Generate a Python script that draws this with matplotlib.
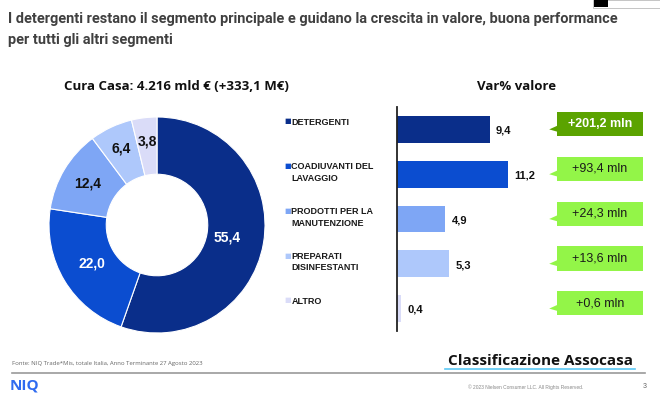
import numpy as np
import matplotlib.pyplot as plt
from matplotlib.patches import Rectangle, Polygon

W, H = 660, 396

categories = ['DETERGENTI', 'COADIUVANTI DEL\nLAVAGGIO', 'PRODOTTI PER LA\nMANUTENZIONE',
              'PREPARATI\nDISINFESTANTI', 'ALTRO']
share = [55.4, 22.0, 12.4, 6.4, 3.8]
share_labels = ['55,4', '22,0', '12,4', '6,4', '3,8']
var_pct = [9.4, 11.2, 4.9, 5.3, 0.4]
var_labels = ['9,4', '11,2', '4,9', '5,3', '0,4']
var_abs = ['+201,2 mln', '+93,4 mln', '+24,3 mln', '+13,6 mln', '+0,6 mln']

colors = ['#0a2e8a', '#0b4dd0', '#7ea6f5', '#aec8fb', '#dadcf8']
lbl_colors = ['white', 'white', '#111111', '#111111', '#111111']

plt.rcParams['font.family'] = ['Liberation Sans', 'DejaVu Sans']


def px_box(x0, y0, x1, y1):
    return [x0 / W, 1 - y1 / H, (x1 - x0) / W, (y1 - y0) / H]


fig = plt.figure(figsize=(W / 100, H / 100), dpi=100)
fig.patch.set_facecolor('white')

# title, sized so the first line spans the same width as the slide
t1 = fig.text(8 / W, 1 - 19 / H, 'I detergenti restano il segmento principale e guidano la crescita in valore, buona performance',
              fontsize=10.5, fontweight='bold', color='#404040', va='center', ha='left', family='Roboto')
r = fig.canvas.get_renderer()
tw = t1.get_window_extent(r).width
fs = 10.5 * 614 / tw
t1.set_fontsize(fs)
fig.text(8 / W, 1 - 40 / H, 'per tutti gli altri segmenti',
         fontsize=fs, fontweight='bold', color='#404040', va='center', ha='left', family='Roboto')

# donut
axp = fig.add_axes(px_box(49, 117, 265, 333))
wedges, _ = axp.pie(share, colors=colors, startangle=90, counterclock=False,
                    wedgeprops=dict(width=0.53, edgecolor='white', linewidth=0.8))
lab_r = [0.66, 0.7, 0.75, 0.78, 0.78]
for w, t, c, rr in zip(wedges, share_labels, lbl_colors, lab_r):
    ang = np.deg2rad((w.theta1 + w.theta2) / 2)
    axp.text(rr * np.cos(ang), rr * np.sin(ang), t, ha='center', va='center',
             fontsize=10, fontweight='bold', color=c)
axp.set_xlim(-1, 1)
axp.set_ylim(-1, 1)
axp.set_aspect('equal')

fig.text(176 / W, 1 - 87 / H, 'Cura Casa: 4.216 mld € (+333,1 M€)', fontsize=9.5,
         fontweight='bold', color='#111111', ha='center', va='center', family='Open Sans')
fig.text(517 / W, 1 - 87 / H, 'Var% valore', fontsize=9.5,
         fontweight='bold', color='#111111', ha='center', va='center', family='Open Sans')

# bars
axb = fig.add_axes(px_box(397, 107, 545, 331))
y = np.arange(len(categories))
axb.barh(y, var_pct, height=0.6, color=colors)
axb.set_xlim(0, 15)
axb.set_ylim(len(categories) - 0.5, -0.5)
for s in ['top', 'right', 'bottom']:
    axb.spines[s].set_visible(False)
axb.spines['left'].set_linewidth(1.3)
axb.spines['left'].set_color('#222222')
axb.set_xticks([])
axb.set_yticks([])
axb.patch.set_alpha(0)
for i, (v, t) in enumerate(zip(var_pct, var_labels)):
    axb.annotate(t, xy=(v, i), xytext=(4.5, -1), textcoords='offset points',
                 ha='left', va='center', fontsize=8, fontweight='bold', color='#111111')
for i, (cat, c) in enumerate(zip(categories, colors)):
    axb.annotate('■', xy=(0, i), xycoords=('axes fraction', 'data'), xytext=(-81, 8),
                 textcoords='offset points', ha='left', va='top', fontsize=5, color=c,
                 family='DejaVu Sans')
    axb.annotate(cat, xy=(0, i), xycoords=('axes fraction', 'data'), xytext=(-76, 8.5),
                 textcoords='offset points', ha='left', va='top', fontsize=6.5,
                 fontweight='bold', color='#1a1a1a', linespacing=1.35)

# green callouts
axc = fig.add_axes(px_box(545, 107, 650, 331))
axc.set_xlim(0, 1)
axc.set_ylim(len(categories) - 0.5, -0.5)
axc.axis('off')
for i, t in enumerate(var_abs):
    fc = '#5ba300' if i == 0 else '#93f548'
    tc = 'white' if i == 0 else '#1a1a1a'
    fw = 'bold' if i == 0 else 'normal'
    yc = i - 0.12
    axc.add_patch(Rectangle((0.114, yc - 0.27), 0.82, 0.54, facecolor=fc, edgecolor='none'))
    axc.add_patch(Polygon([[0.115, i + 0.05], [0.115, i - 0.08], [0.04, i]], closed=True,
                          facecolor=fc, edgecolor='none'))
    axc.text(0.524, yc, t, ha='center', va='center', fontsize=9, fontweight=fw, color=tc)

# footer
fig.text(12 / W, 1 - 363 / H, 'Fonte: NIQ Trade*Mis, totale Italia, Anno Terminante 27 Agosto 2023',
         fontsize=4.3, color='#666666', ha='left', va='center', family='Open Sans')
fig.text(540 / W, 1 - 361 / H, 'Classificazione Assocasa', fontsize=11, fontweight='bold',
         color='#111111', ha='center', va='center', family='Open Sans')
fig.add_artist(plt.Line2D([445 / W, 635 / W], [1 - 368.5 / H] * 2, color='#5bc8f5', lw=1.2))
fig.add_artist(plt.Line2D([12 / W, 645 / W], [1 - 373 / H] * 2, color='#9a9a9a', lw=1.2))
fig.text(10 / W, 1 - 386 / H, 'NIQ', fontsize=11, fontweight='bold', color='#2f6bf0',
         ha='left', va='center', family='Open Sans')
fig.text(468 / W, 1 - 387 / H, '© 2023 Nielsen Consumer LLC. All Rights Reserved.',
         fontsize=3.5, color='#888888', ha='left', va='center')
fig.text(643 / W, 1 - 387 / H, '3', fontsize=5, color='#666666', ha='left', va='center')

# thumbnail fragment top right
fig.add_artist(Rectangle((593 / W, 1 - 8 / H), 67 / W, 8 / H, facecolor='white',
                         edgecolor='#bbbbbb', lw=0.6))
fig.add_artist(Rectangle((594 / W, 1 - 7 / H), 14 / W, 7 / H, facecolor='black', edgecolor='none'))

fig.savefig('out.png', dpi=100)
